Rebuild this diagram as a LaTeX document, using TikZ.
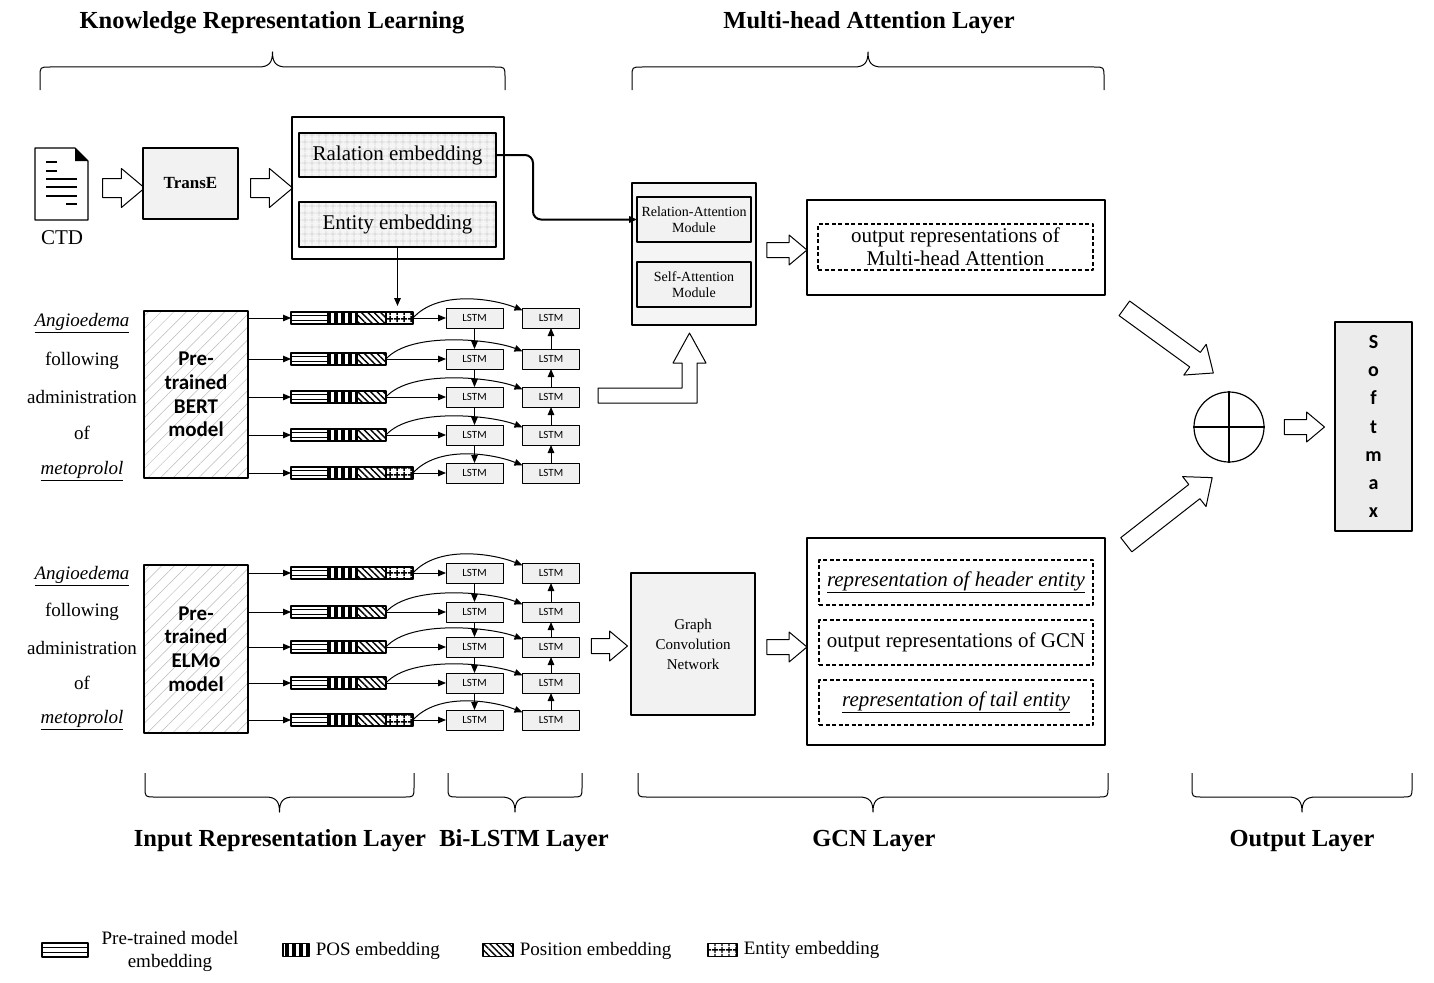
\documentclass[tikz,border=0pt]{standalone}
\usepackage{fontspec}
\setmainfont{Liberation Serif}
\newfontfamily\calfont{Carlito}
\usetikzlibrary{positioning,shapes.arrows,patterns.meta,arrows.meta}

% brace: left, right, end of legs, bar, tip
\newcommand{\layerbrace}[5]{%
  \pgfmathsetmacro\brmid{(#1+#2)/2}%
  \pgfmathsetmacro\brsgn{(#5-#4)/abs(#5-#4)}%
  \draw[bracepath] (#1,#3) -- (#1,#4-10*\brsgn) .. controls (#1,#4) .. (#1+10,#4)
    -- (\brmid-14,#4) .. controls (\brmid-3,#4) and (\brmid,#4+5*\brsgn) .. (\brmid,#5)
    .. controls (\brmid,#4+5*\brsgn) and (\brmid+3,#4) .. (\brmid+14,#4)
    -- (#2-10,#4) .. controls (#2,#4) .. (#2,#4-10*\brsgn) -- (#2,#3);}

\begin{document}
\begin{tikzpicture}[x=1pt, y=-1pt, >={Triangle[length=8pt,width=6.5pt]}, line join=round, line width=1,
  box/.style={draw, line width=1.3, inner sep=0, outer sep=0},
  graybox/.style={box, fill=gray!10},
  dashbox/.style={draw, line width=1.8, dash pattern=on 4pt off 2.5pt, inner sep=0},
  gridbox/.style={box, preaction={fill=gray!8}, pattern={Hatch[distance=6.5pt,line width=0.7pt]}, pattern color=gray!35},
  hatchbox/.style={box, pattern={Lines[angle=45,distance=9pt,line width=0.5pt]}, pattern color=gray!55},
  lstm/.style={box, line width=0.9, fill=gray!12, minimum width=57, minimum height=20, font=\calfont\fontsize{11}{11}\selectfont},
  seg/.style={draw, line width=1.2, minimum height=12, inner sep=0, outer sep=0},
  pretok/.style={seg, minimum width=37, fill=white, path picture={
    \draw[line width=1.6] ([yshift=2.4pt]path picture bounding box.west) -- ([yshift=2.4pt]path picture bounding box.east)
      ([yshift=-2.4pt]path picture bounding box.west) -- ([yshift=-2.4pt]path picture bounding box.east);}},
  postok/.style={seg, minimum width=29, pattern={Lines[angle=90,distance=7pt,line width=3.5pt]}},
  plctok/.style={seg, minimum width=29, pattern={Lines[angle=-45,distance=4.5pt,line width=1.4pt]}},
  enttok/.style={seg, minimum width=27, pattern={Hatch[distance=6.5pt,line width=1.4pt]}},
  bigarrow/.style={draw, single arrow, line width=1, fill=white, inner xsep=0, inner ysep=9, single arrow head extend=10, minimum height=42, single arrow tip angle=80},
  smallarrow/.style={bigarrow, inner ysep=7, single arrow head extend=7.5, minimum height=40},
  word/.style={font=\fontsize{19}{23}\selectfont},
  txt/.style={font=\fontsize{21}{23}\selectfont, align=center},
  title/.style={font=\fontsize{24.5}{26}\selectfont\bfseries},
  bracepath/.style={line width=1}
]
\useasboundingbox (0,0) rectangle (1434,982);

% layer titles and braces
\node[title] (krl) at (272,23) {Knowledge Representation Learning};
\node[title] (mhal) at (869,23) {Multi-head Attention Layer};
\layerbrace{40}{505}{90}{67}{52}
\layerbrace{632}{1104}{90}{67}{52}
\layerbrace{145}{414}{773}{797}{812}
\layerbrace{448}{582}{773}{797}{812}
\layerbrace{638}{1108}{773}{797}{812}
\layerbrace{1192}{1412}{773}{797}{812}
\node[title] (irl) at (280,841) {Input Representation Layer};
\node[title] (bll) at (524,841) {Bi-LSTM Layer};
\node[title] (gcnl) at (874,841) {GCN Layer};
\node[title] (outl) at (1302,841) {Output Layer};

% CTD document
\draw[line width=1.2, fill=white] (35,148) -- (75,148) -- (88,161) -- (88,220) -- (35,220) -- cycle;
\fill (75,148) -- (88,161) -- (75,161) -- cycle;
\foreach \y/\a/\b in {162/46/57, 171/46/57, 179/46/77, 187/46/77, 196/46/77, 204/66/77}
  \draw[line width=1.5] (\a,\y) -- (\b,\y);
\node[txt] (ctd) at (62,238) {CTD};
\node[bigarrow] (ar1) at (118,188) {};
\node[graybox, minimum width=95, minimum height=71, font=\bfseries\fontsize{17}{17}\selectfont] (transe) at (190.5,183.5) {TransE};
\node[bigarrow] (ar2) at (266,188) {};
\node[box, minimum width=212, minimum height=142] (kg) at (398,188) {};
\node[gridbox, txt, minimum width=197, minimum height=44] (relemb) at (397.5,155) {Ralation embedding};
\node[gridbox, txt, minimum width=197, minimum height=45] (entemb) at (397.5,224.5) {Entity embedding};

% words and pre-trained models
\foreach \t/\ya/\yb [count=\i] in {{\underline{\textit{Angioedema}}}/323/576, following/361/612, administration/397/648, of/433/683, {\underline{\textit{metoprolol}}}/471/720} {
  \node[word] (bertw\i) at (82,\ya) {\t};
  \node[word] (elmow\i) at (82,\yb) {\t};
}
\node[hatchbox, minimum width=104, minimum height=167, align=center, font=\calfont\bfseries\fontsize{21}{23.7}\selectfont] (bertmodel) at (196,394.5) {Pre-\\trained\\BERT\\model};
\node[hatchbox, minimum width=104, minimum height=168, align=center, font=\calfont\bfseries\fontsize{21}{23.7}\selectfont] (elmomodel) at (196,649) {Pre-\\trained\\ELMo\\model};

% token embeddings and Bi-LSTM
\foreach \g/\ya/\yb/\yc/\yd/\ye in {bert/318/359/397/435/473, elmo/573/612/647/683/720} {
  \foreach \r/\y/\ent in {1/\ya/1, 2/\yb/0, 3/\yc/0, 4/\yd/0, 5/\ye/1} {
    \node[pretok, anchor=west] (\g p\r) at (291,\y) {};
    \node[postok, right=0pt of \g p\r] (\g q\r) {};
    \node[plctok, right=0pt of \g q\r] (\g s\r) {};
    \ifnum\ent=1
      \node[enttok, right=0pt of \g s\r] (\g e\r) {};
      \coordinate (\g end\r) at (\g e\r.east);
    \else
      \coordinate (\g end\r) at (\g s\r.east);
    \fi
    \node[lstm] (\g f\r) at (474.5,\y) {LSTM};
    \node[lstm] (\g b\r) at (551,\y) {LSTM};
    \draw[->] (\g model.east |- \g p\r) -- (\g p\r);
    \draw[->] (\g end\r) -- (\g f\r);
    \draw[->] (\g end\r) .. controls +(25,-28) and +(-30,-12) .. (\g b\r.165);
  }
  \foreach \r/\n in {1/2, 2/3, 3/4, 4/5} {
    \draw[->] (\g f\r) -- (\g f\n);
    \draw[->] (\g b\n) -- (\g b\r);
  }
}
\draw[->, line width=1.5, shorten >=6pt] (entemb.south) -- (entemb.south |- berte1.north);

% multi-head attention
\node[graybox, fill=gray!8, minimum width=124, minimum height=142] (att) at (694,254) {};
\node[graybox, minimum width=114, minimum height=45, align=center, font=\fontsize{14}{16}\selectfont] (relmod) at (694,219.5) {Relation-Attention\\Module};
\node[graybox, minimum width=114, minimum height=45, align=center, font=\fontsize{14}{16}\selectfont] (selfmod) at (694,284.5) {Self-Attention\\Module};
\draw[->, line width=2, rounded corners=8] (relemb.east) -- ++(37,0) |- (relmod.west);
\draw[line width=1, fill=white] (598,388) -- (682,388) -- (682,363) -- (673,363) -- (689.5,333)
  -- (706,363) -- (697,363) -- (697,403) -- (598,403) -- cycle;
\node[smallarrow] (ar3) at (782.5,250) {};
\node[box, minimum width=298, minimum height=95] (mhaout) at (956,247.5) {};
\node[dashbox, txt, minimum width=275, minimum height=46] (mharep) at (955.5,247) {output representations of\\Multi-head Attention};

% GCN
\node[smallarrow, minimum height=36] (ar4) at (605,646) {};
\node[graybox, minimum width=124, minimum height=142, align=center, font=\fontsize{15}{20}\selectfont] (gcn) at (693,644) {Graph\\Convolution\\Network};
\node[smallarrow] (ar5) at (782.5,647) {};
\node[box, minimum width=298, minimum height=207] (gcnout) at (956,641.5) {};
\node[dashbox, txt, minimum width=274, minimum height=45] (head) at (956,582.5) {\underline{\textit{representation of header entity}}};
\node[dashbox, txt, minimum width=274, minimum height=45] (gcnrep) at (956,642.5) {output representations of GCN};
\node[dashbox, txt, minimum width=274, minimum height=45] (tail) at (956,702.5) {\underline{\textit{representation of tail entity}}};

% output
\node[bigarrow, rotate=-36, minimum height=110, inner ysep=8.5] (ar6) at (1164.5,337.5) {};
\node[bigarrow, rotate=38, minimum height=109, inner ysep=8.5] (ar7) at (1165,514.5) {};
\node[draw, circle, line width=1.2, minimum size=70, inner sep=0] (sum) at (1229,427) {};
\draw[line width=1.2] (sum.north) -- (sum.south) (sum.west) -- (sum.east);
\node[smallarrow] (ar8) at (1300,427) {};
\node[box, fill=gray!15, minimum width=77, minimum height=209, align=center, font=\calfont\bfseries\fontsize{20}{28.3}\selectfont] (soft) at (1373.5,426.5) {S\\o\\f\\t\\m\\a\\x};

% legend
\node[pretok, minimum width=46, minimum height=14] (lgpre) at (65,950) {};
\node[word, align=center] (lgpretxt) at (170,951) {Pre-trained model\\embedding};
\node[postok, minimum width=26, minimum height=13] (lgpos) at (296,950) {};
\node[word, anchor=west] (lgpostxt) at (312,951) {POS embedding};
\node[plctok, minimum width=30, minimum height=13] (lgplc) at (498,950) {};
\node[word, anchor=west] (lgplctxt) at (516,951) {Position embedding};
\node[enttok, minimum width=29, minimum height=13] (lgent) at (722.5,950) {};
\node[word, anchor=west] (lgenttxt) at (740,950) {Entity embedding};
\end{tikzpicture}
\end{document}
